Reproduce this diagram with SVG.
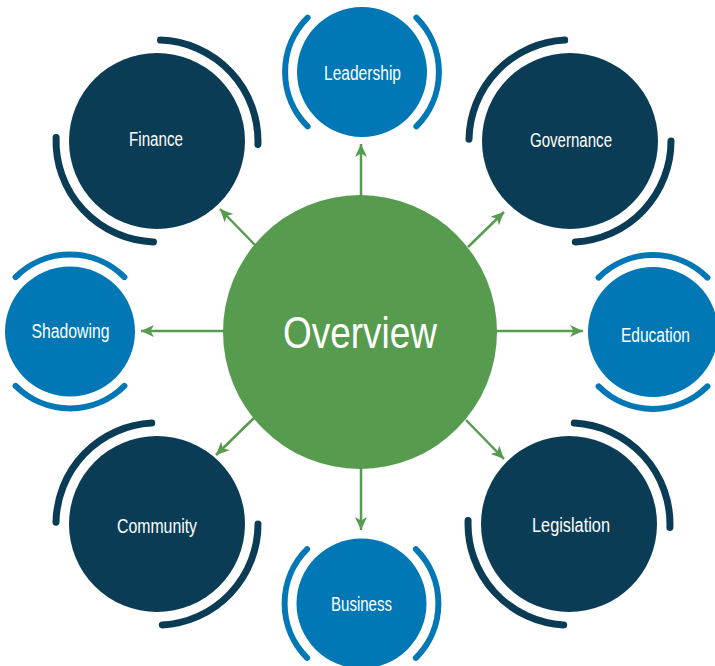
<svg xmlns="http://www.w3.org/2000/svg" width="715" height="666" viewBox="0 0 715 666">
  <style>
    .navy { fill: #0A3D55; }
    .blue { fill: #0177B5; }
    .ring-navy { fill: none; stroke: #0A3D55; stroke-width: 7; stroke-linecap: round; }
    .ring-blue { fill: none; stroke: #0177B5; stroke-width: 6; stroke-linecap: round; }
    .lbl { fill: #FFFFFF; font-family: "Liberation Sans", Arial, sans-serif; font-size: 19.5px; text-anchor: middle; }
    .big { font-size: 45px; }
    .conn { stroke: #579B4F; stroke-width: 2.5; fill: none; marker-end: url(#arrow); }
  </style>
  <defs>
    <marker id="arrow" markerUnits="userSpaceOnUse" markerWidth="14" markerHeight="12" viewBox="0 0 14 12" refX="13" refY="6" orient="auto">
      <path d="M0,0 L13,6 L0,12 L3.5,6 Z" fill="#579B4F"/>
    </marker>
  </defs>
  <rect width="715" height="666" fill="#FFFFFF"/>

  <g id="connectors">
    <line class="conn" x1="361" y1="196" x2="361" y2="144"/>
    <line class="conn" x1="361" y1="468" x2="361" y2="530"/>
    <line class="conn" x1="224" y1="331" x2="141" y2="331"/>
    <line class="conn" x1="496" y1="331" x2="583" y2="331"/>
    <line class="conn" x1="255" y1="245" x2="220" y2="209"/>
    <line class="conn" x1="468" y1="247" x2="504" y2="212"/>
    <line class="conn" x1="254" y1="418" x2="216" y2="455"/>
    <line class="conn" x1="466" y1="420" x2="504" y2="459"/>
  </g>

  <g id="overview">
    <circle cx="360" cy="332" r="137" fill="#579B4F"/>
    <text class="lbl big" x="360" y="348" textLength="154" lengthAdjust="spacingAndGlyphs">Overview</text>
  </g>

  <g id="leadership">
    <circle class="blue" cx="362" cy="72" r="65"/>
    <path class="ring-blue" d="M307.6,126.4 A77,77 0 0 1 307.6,17.6"/>
    <path class="ring-blue" d="M416.4,17.6 A77,77 0 0 1 416.4,126.4"/>
    <text class="lbl" x="362.5" y="80" textLength="77" lengthAdjust="spacingAndGlyphs">Leadership</text>
  </g>

  <g id="finance">
    <circle class="navy" cx="157" cy="141" r="88"/>
    <path class="ring-navy" d="M160.5,40.1 A101,101 0 0 1 257.9,144.5"/>
    <path class="ring-navy" d="M153.5,241.9 A101,101 0 0 1 56.1,137.5"/>
    <text class="lbl" x="156" y="146" textLength="54" lengthAdjust="spacingAndGlyphs">Finance</text>
  </g>

  <g id="governance">
    <circle class="navy" cx="570" cy="141" r="88"/>
    <path class="ring-navy" d="M469,139.2 A101,101 0 0 1 564.7,40.1"/>
    <path class="ring-navy" d="M671,141 A101,101 0 0 1 575.3,241.9"/>
    <text class="lbl" x="571" y="147" textLength="82" lengthAdjust="spacingAndGlyphs">Governance</text>
  </g>

  <g id="shadowing">
    <circle class="blue" cx="70" cy="331.5" r="65"/>
    <path class="ring-blue" d="M15.6,277.1 A77,77 0 0 1 124.4,277.1"/>
    <path class="ring-blue" d="M124.4,385.9 A77,77 0 0 1 15.6,385.9"/>
    <text class="lbl" x="70.5" y="338" textLength="78" lengthAdjust="spacingAndGlyphs">Shadowing</text>
  </g>

  <g id="education">
    <circle class="blue" cx="653" cy="332" r="65"/>
    <path class="ring-blue" d="M598.6,277.6 A77,77 0 0 1 707.4,277.6"/>
    <path class="ring-blue" d="M707.4,386.4 A77,77 0 0 1 598.6,386.4"/>
    <text class="lbl" x="655.5" y="342" textLength="69" lengthAdjust="spacingAndGlyphs">Education</text>
  </g>

  <g id="community">
    <circle class="navy" cx="157" cy="524" r="88"/>
    <path class="ring-navy" d="M56,522.2 A101,101 0 0 1 151.7,423.1"/>
    <path class="ring-navy" d="M258,524 A101,101 0 0 1 162.3,624.9"/>
    <text class="lbl" x="157" y="533" textLength="80" lengthAdjust="spacingAndGlyphs">Community</text>
  </g>

  <g id="legislation">
    <circle class="navy" cx="569" cy="524" r="88"/>
    <path class="ring-navy" d="M574.3,423.1 A101,101 0 0 1 669.9,527.5"/>
    <path class="ring-navy" d="M563.7,624.9 A101,101 0 0 1 468.1,520.5"/>
    <text class="lbl" x="571" y="532" textLength="78" lengthAdjust="spacingAndGlyphs">Legislation</text>
  </g>

  <g id="business">
    <circle class="blue" cx="361.5" cy="603.5" r="65"/>
    <path class="ring-blue" d="M307.1,657.9 A77,77 0 0 1 307.1,549.1"/>
    <path class="ring-blue" d="M415.9,549.1 A77,77 0 0 1 415.9,657.9"/>
    <text class="lbl" x="361.5" y="611" textLength="61" lengthAdjust="spacingAndGlyphs">Business</text>
  </g>
</svg>
